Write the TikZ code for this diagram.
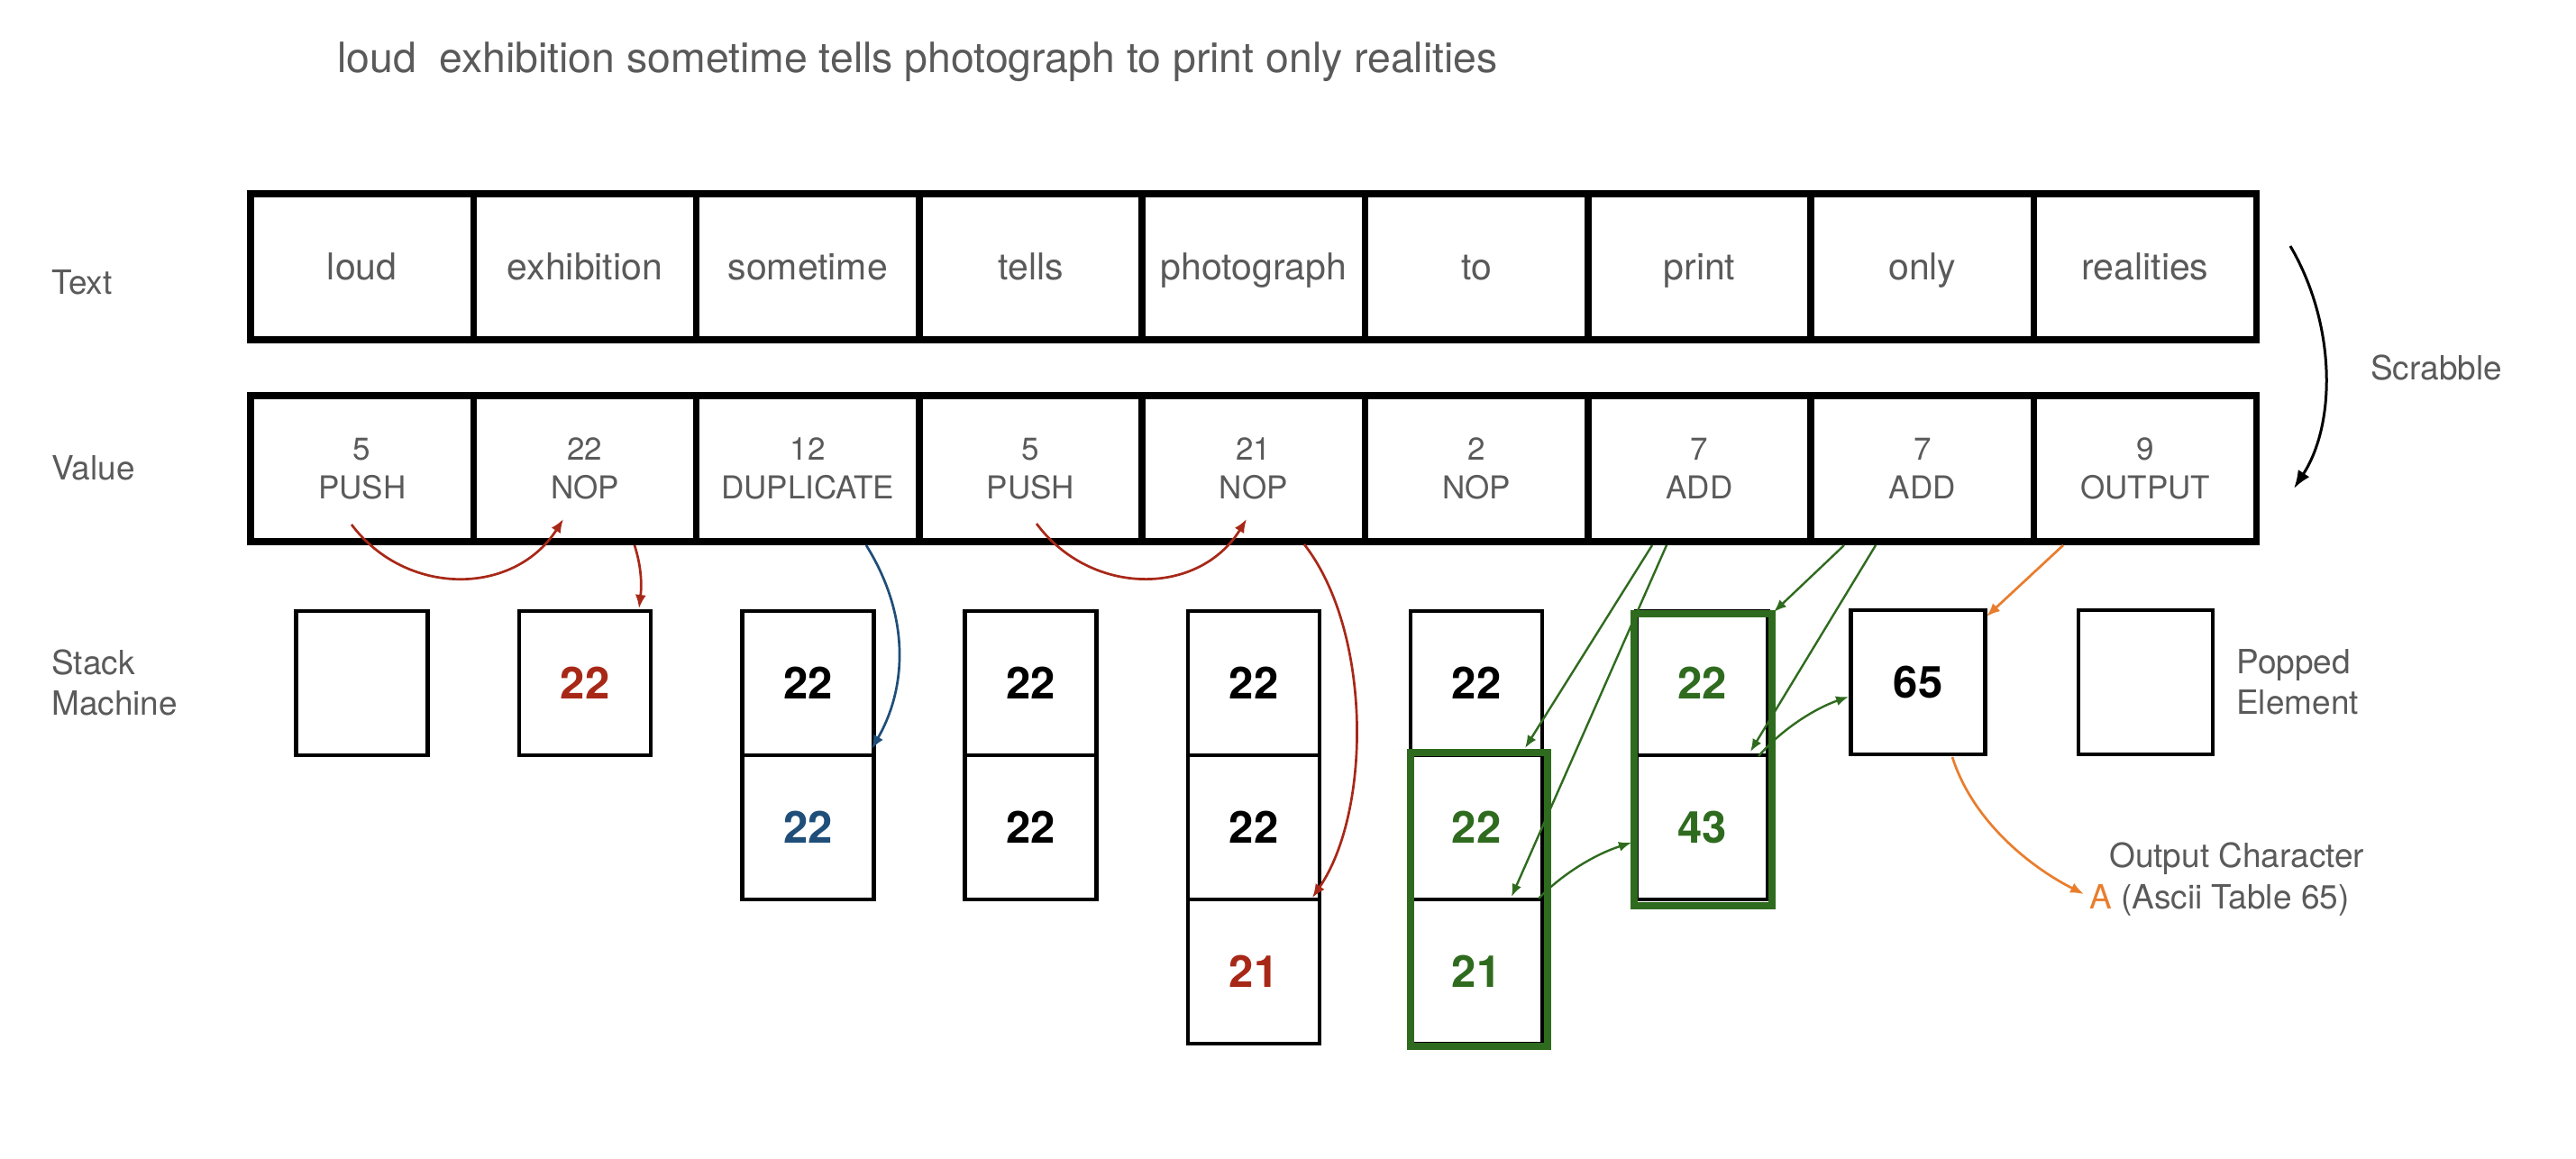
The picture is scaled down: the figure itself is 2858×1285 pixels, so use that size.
\documentclass[tikz,border=0pt]{standalone}
\usepackage{fontspec}
\setmainfont{TeX Gyre Heros}
\usetikzlibrary{arrows.meta}
\definecolor{txtgray}{RGB}{90,90,90}
\definecolor{cred}{RGB}{168,40,24}
\definecolor{cblue}{RGB}{31,78,121}
\definecolor{cgreen}{RGB}{47,107,30}
\definecolor{corange}{RGB}{233,125,45}
\begin{document}
\begin{tikzpicture}[x=1pt,y=-1pt,
  cell/.style={draw, line width=7.5pt, minimum width=247.3pt, minimum height=162pt, inner sep=0pt, text=txtgray},
  wordtxt/.style={font=\fontsize{41}{49}\selectfont, text height=31pt, text depth=2pt},
  valtxt/.style={font=\fontsize{35}{43}\selectfont, align=center},
  sbox/.style={draw, line width=4.5pt, minimum width=146pt, minimum height=160pt, inner sep=0pt, font=\fontsize{49}{58}\selectfont\bfseries},
  gbox/.style={draw=cgreen, line width=8pt, inner sep=0pt},
  lbl/.style={text=txtgray, font=\fontsize{37}{45}\selectfont, anchor=west, align=left, inner sep=0pt},
  redarr/.style={cred, line width=2.7pt, -{Latex[length=15pt,width=12pt]}},
  bluearr/.style={cblue, line width=2.7pt, -{Latex[length=15pt,width=12pt]}},
  greenarr/.style={cgreen, line width=2.4pt, -{Latex[length=14pt,width=11pt]}},
  orangearr/.style={corange, line width=2.7pt, -{Latex[length=15pt,width=12pt]}},
  blackarr/.style={black, line width=3pt, -{Latex[length=20pt,width=15pt]}}
]
\useasboundingbox (0,0) rectangle (2858,1285);
\fill[white] (0,0) rectangle (2858,1285);

% title
\node[anchor=base west, text=txtgray, font=\fontsize{46.4}{55}\selectfont, inner sep=0pt] (title) at (374,80)
  {loud\ \ exhibition sometime tells photograph to print only realities};

% text row
\foreach \w [count=\i] in {loud,exhibition,sometime,tells,photograph,to,print,only,realities}
  \node[cell,wordtxt] (t\i) at ({278+247.3*(\i-0.5)},296) {\w};

% value row
\foreach \n/\op [count=\i] in {5/PUSH,22/NOP,12/DUPLICATE,5/PUSH,21/NOP,2/NOP,7/ADD,7/ADD,9/OUTPUT}
  \node[cell,valtxt] (v\i) at ({278+247.3*(\i-0.5)},520) {\n\\\op};

% stack machine boxes
\node[sbox] (s11) at (401.7,758) {};
\node[sbox, text=cred] (s21) at (649,758) {22};
\node[sbox] (s31) at (896.3,758) {22};
\node[sbox, text=cblue] (s32) at (896.3,918) {22};
\node[sbox] (s41) at (1143.6,758) {22};
\node[sbox] (s42) at (1143.6,918) {22};
\node[sbox] (s51) at (1391,758) {22};
\node[sbox] (s52) at (1391,918) {22};
\node[sbox, text=cred] (s53) at (1391,1078) {21};
\node[sbox] (s61) at (1638,758) {22};
\node[sbox, text=cgreen] (s62) at (1638,918) {22};
\node[sbox, text=cgreen] (s63) at (1638,1078) {21};
\node[sbox, text=cgreen] (s71) at (1888.5,758) {22};
\node[sbox, text=cgreen] (s72) at (1888.5,918) {43};
\node[sbox, minimum width=149pt] (s81) at (2128,757) {65};
\node[sbox, minimum width=149pt] (s91) at (2380.5,757) {};

% green highlight frames
\node[gbox, minimum width=152pt, minimum height=326pt] (g6) at (1641,998) {};
\node[gbox, minimum width=153pt, minimum height=324pt] (g7) at (1889.5,843) {};

% labels
\node[lbl] (lText) at (57,313) {Text};
\node[lbl] (lValue) at (57,519) {Value};
\node[lbl] (lStack) at (57,757) {Stack\\Machine};
\node[lbl] (lScr) at (2630,408) {Scrabble};
\node[lbl] (lPop) at (2481,757) {Popped\\Element};
\node[lbl] (lOut) at (2340,953) {Output Character};
\node[lbl] (lA) at (2318,999) {\textcolor{corange}{A} (Ascii Table 65)};

% connector end points
\coordinate (r1a) at (390,582);   \coordinate (r1b) at (625,576);
\coordinate (r2a) at (704,605);   \coordinate (r2b) at (709,675);
\coordinate (b1a) at (961,605);   \coordinate (b1b) at (967,831);
\coordinate (r4a) at (1150,581);  \coordinate (r4b) at (1383,576);
\coordinate (r5a) at (1447,604);  \coordinate (r5b) at (1456,996);
\coordinate (g1a) at (1833,605);  \coordinate (g1b) at (1692,830);
\coordinate (g2a) at (1849,605);  \coordinate (g2b) at (1677,995);
\coordinate (g3a) at (2046,605);  \coordinate (g3b) at (1968,679);
\coordinate (g4a) at (2081,605);  \coordinate (g4b) at (1942,834);
\coordinate (g5a) at (1707,997);  \coordinate (g5b) at (1810,935);
\coordinate (g6a) at (1951,839);  \coordinate (g6b) at (2051,773);
\coordinate (o1a) at (2289,605);  \coordinate (o1b) at (2204,684);
\coordinate (o2a) at (2166,840);  \coordinate (o2b) at (2312,992);
\coordinate (sca) at (2541,273);  \coordinate (scb) at (2545,542);

% connectors
\draw[redarr] (r1a) .. controls (450,662) and (570,662) .. (r1b);
\draw[redarr] (r2a) .. controls (712,630) and (712,650) .. (r2b);
\draw[bluearr] (b1a) .. controls (1008,680) and (1008,760) .. (b1b);
\draw[redarr] (r4a) .. controls (1210,662) and (1330,662) .. (r4b);
\draw[redarr] (r5a) .. controls (1522,700) and (1522,900) .. (r5b);
\draw[greenarr] (g1a) -- (g1b);
\draw[greenarr] (g2a) -- (g2b);
\draw[greenarr] (g3a) -- (g3b);
\draw[greenarr] (g4a) -- (g4b);
\draw[greenarr] (g5a) .. controls (1735,968) and (1772,947) .. (g5b);
\draw[greenarr] (g6a) .. controls (1978,808) and (2014,786) .. (g6b);
\draw[orangearr] (o1a) -- (o1b);
\draw[orangearr] (o2a) .. controls (2190,915) and (2258,965) .. (o2b);
\draw[blackarr] (sca) .. controls (2592,360) and (2592,470) .. (scb);
\end{tikzpicture}
\end{document}
